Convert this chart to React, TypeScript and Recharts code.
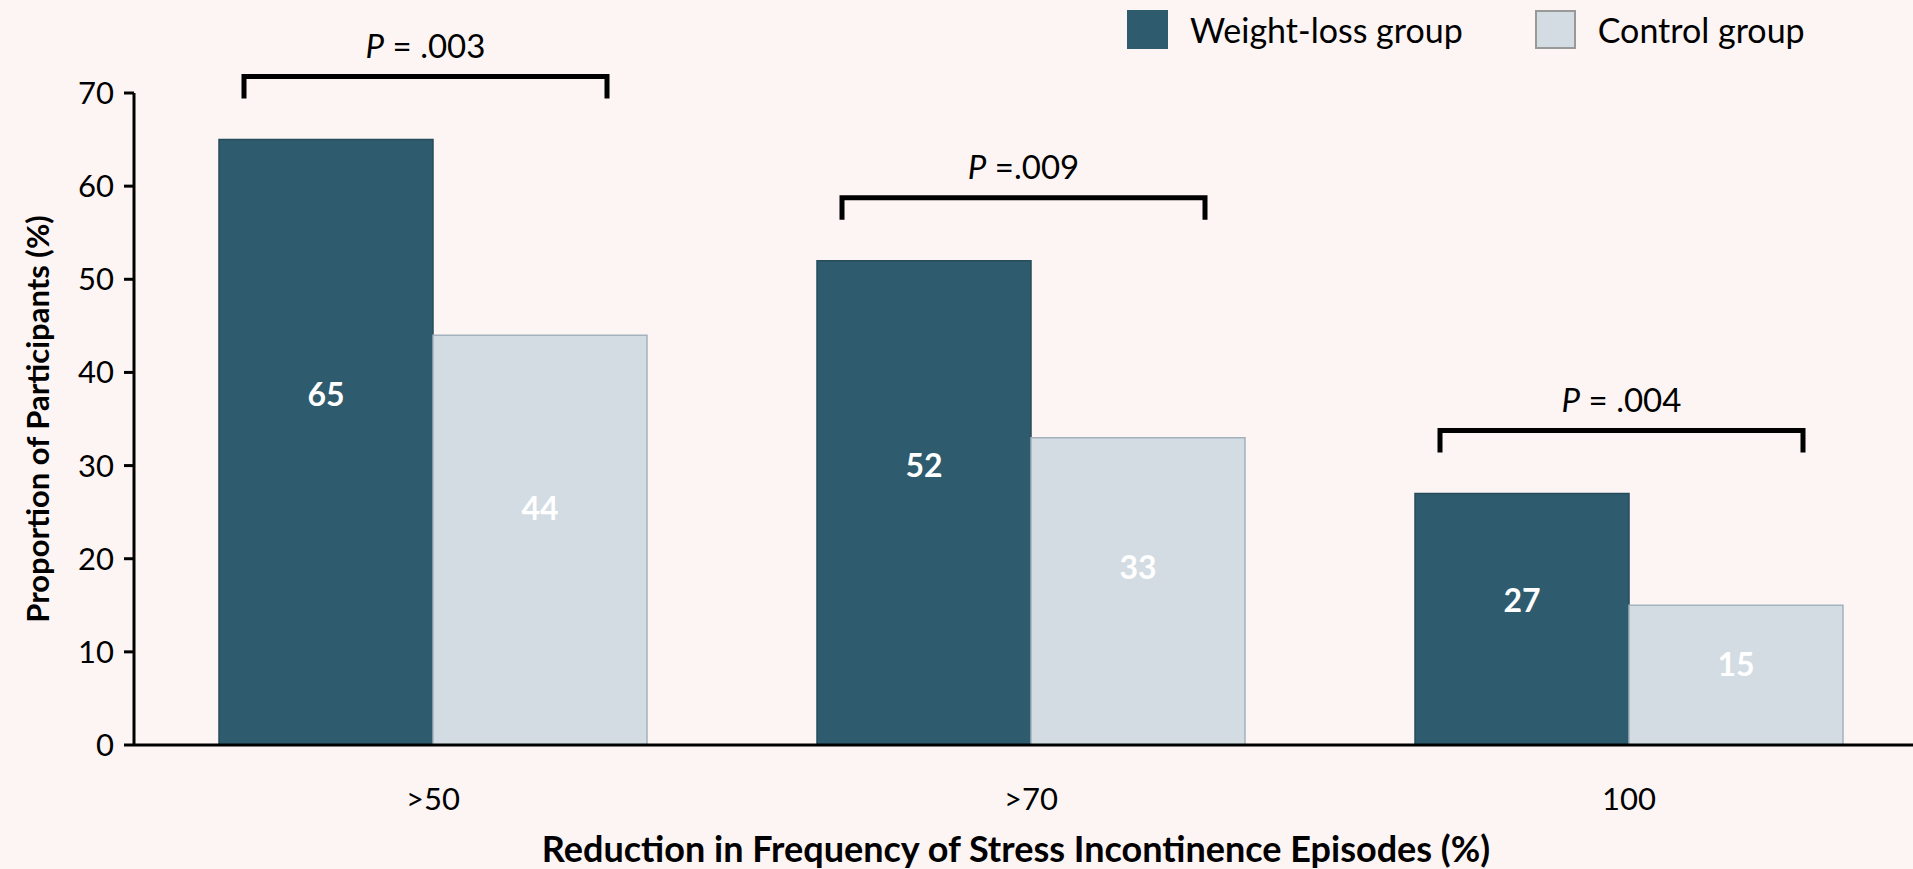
import React from "react";
import { BarChart, Bar, XAxis, YAxis, LabelList, Label } from "recharts";

const categories = [">50", ">70", "100"];
const weightLossValues = [65, 52, 27];
const controlValues = [44, 33, 15];
const pValueLabels = [" = .003", " =.009", " = .004"];
const yTicks = [0, 10, 20, 30, 40, 50, 60, 70];
const seriesNames = ["Weight-loss group", "Control group"];

const data = categories.map((name, i) => ({
  name,
  weightLoss: weightLossValues[i],
  control: controlValues[i],
  p: pValueLabels[i],
}));

const FONT = "Lato, 'Open Sans', sans-serif";
const DARK = "#2e5b6e";
const LIGHT = "#d3dce3";

// value printed inside each bar, a bit above the middle
const ValueLabel = (props: any) => {
  const { x, y, width, height, value } = props;
  return (
    <text
      x={x + width / 2}
      y={y + height * 0.42}
      textAnchor="middle"
      dominantBaseline="central"
      fill="#ffffff"
      fontFamily={FONT}
      fontWeight={700}
      fontSize={32}
    >
      {value}
    </text>
  );
};

// bracket + P value drawn above each pair of bars
const Bracket = (props: any) => {
  const { x, y, width, index } = props;
  const x0 = x + 25;
  const x1 = x + width * 2 - 40;
  const top = y - 63;
  const mid = (x0 + x1) / 2;
  return (
    <g>
      <path
        d={`M${x0},${top + 22} L${x0},${top} L${x1},${top} L${x1},${top + 22}`}
        fill="none"
        stroke="#000"
        strokeWidth={5}
      />
      <text
        x={mid}
        y={top - 32}
        textAnchor="middle"
        dominantBaseline="central"
        fontFamily={FONT}
        fontSize={33}
        fill="#000"
      >
        <tspan fontStyle="italic">P</tspan>
        {data[index].p}
      </text>
    </g>
  );
};

const YTitle = (props: any) => {
  const { viewBox } = props;
  const cx = 37;
  const cy = viewBox.y + viewBox.height / 2;
  return (
    <text
      x={cx}
      y={cy}
      transform={`rotate(-90, ${cx}, ${cy})`}
      textAnchor="middle"
      dominantBaseline="central"
      fontFamily={FONT}
      fontWeight={700}
      fontSize={31}
      fill="#000"
    >
      Proportion of Participants (%)
    </text>
  );
};

const XTitle = (props: any) => {
  const { viewBox } = props;
  return (
    <text
      x={1016}
      y={viewBox.y + 103}
      textAnchor="middle"
      dominantBaseline="central"
      fontFamily={FONT}
      fontWeight={700}
      fontSize={36}
      fill="#000"
    >
      Reduction in Frequency of Stress Incontinence Episodes (%)
    </text>
  );
};

function ChartLegend() {
  const colors = [DARK, LIGHT];
  return (
    <div
      style={{
        position: "absolute",
        top: 10,
        left: 1127,
        display: "flex",
        alignItems: "center",
        fontFamily: FONT,
        fontSize: 34,
        lineHeight: "39px",
      }}
    >
      {seriesNames.map((name, i) => (
        <div key={name} style={{ display: "flex", alignItems: "center", marginRight: i === 0 ? 72 : 0 }}>
          <div
            style={{
              width: 41,
              height: 39,
              boxSizing: "border-box",
              background: colors[i],
              border: i === 0 ? "none" : "2px solid #999",
              marginRight: 22,
            }}
          />
          <span style={{ color: "#000" }}>{name}</span>
        </div>
      ))}
    </div>
  );
}

export default function App() {
  return (
    <div
      style={{
        position: "absolute",
        left: 0,
        top: 0,
        width: 1913,
        height: 869,
        overflow: "hidden",
        background: "#fdf5f4",
      }}
    >
      <BarChart
        width={1930}
        height={869}
        data={data}
        margin={{ top: 93, right: 2, left: 0, bottom: 0 }}
        barSize={214}
        barGap={0}
      >
        <XAxis
          dataKey="name"
          height={124}
          axisLine={{ stroke: "#000", strokeWidth: 3 }}
          tickLine={false}
          tickMargin={37}
          tick={{ fill: "#000", fontFamily: FONT, fontSize: 31 }}
          label={<Label content={XTitle} />}
        />
        <YAxis
          width={134}
          domain={[0, 70]}
          ticks={yTicks}
          interval={0}
          axisLine={{ stroke: "#000", strokeWidth: 3 }}
          tickLine={{ stroke: "#000", strokeWidth: 3 }}
          tickSize={10}
          tickMargin={10}
          tick={{ fill: "#000", fontFamily: FONT, fontSize: 31 }}
          label={<Label content={YTitle} />}
        />
        <Bar
          dataKey="weightLoss"
          name={seriesNames[0]}
          fill={DARK}
          stroke="#264c5c"
          strokeWidth={1.5}
          isAnimationActive={false}
        >
          <LabelList dataKey="weightLoss" content={ValueLabel} />
          <LabelList dataKey="weightLoss" content={Bracket} />
        </Bar>
        <Bar
          dataKey="control"
          name={seriesNames[1]}
          fill={LIGHT}
          stroke="#a3b2bc"
          strokeWidth={1.5}
          isAnimationActive={false}
        >
          <LabelList dataKey="control" content={ValueLabel} />
        </Bar>
      </BarChart>
      <ChartLegend />
    </div>
  );
}
